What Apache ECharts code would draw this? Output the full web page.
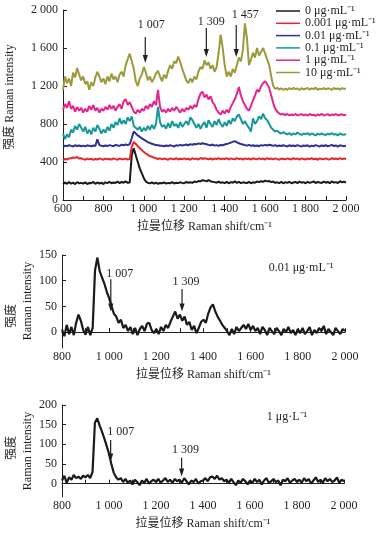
<!DOCTYPE html>
<html><head><meta charset="utf-8">
<script src="https://cdn.jsdelivr.net/npm/echarts@6/dist/echarts.min.js"></script>
<style>html,body{margin:0;padding:0;background:#fff}#c{width:388px;height:536px}</style>
</head><body><div id="c"></div>
<script>
// sampling grids (cm^-1)
const shiftTop = []; for (let v = 600; v <= 2000; v += 10) shiftTop.push(v);
const shiftSingle = []; for (let v = 800; v <= 2000; v += 10) shiftSingle.push(v);

const legendNames = ['0 μg·mL⁻¹','0.001 μg·mL⁻¹','0.01 μg·mL⁻¹','0.1 μg·mL⁻¹','1 μg·mL⁻¹','10 μg·mL⁻¹'];
const lineColors = ['#1a1a1a','#e8262a','#2e3192','#17999b','#e6248e','#9c9a3c'];

const conc0 = [165,185,170,190,172,182,168,188,175,180,
172,186,168,180,176,190,170,184,174,182,
168,186,178,192,176,184,180,194,178,190,
182,196,180,185,470,545,470,400,330,280,
230,195,180,175,186,172,184,170,180,176,
185,172,180,176,188,174,182,178,186,180,
176,190,182,186,180,194,188,200,196,208,
204,196,210,198,192,188,182,194,180,186,
178,190,176,188,182,196,180,192,178,186,
182,178,190,176,186,182,194,188,198,192,
204,196,200,188,194,180,186,178,190,176,
188,180,192,176,184,190,178,194,182,188,
176,192,180,186,196,178,190,184,180,194,
182,190,176,196,184,188,178,198,186,192,184];
const conc0001 = [420,432,426,438,440,448,444,452,436,440,
430,424,436,428,434,422,432,426,438,430,
424,436,428,432,426,438,430,424,436,430,
428,436,426,432,560,612,590,565,545,525,
505,490,475,462,455,446,440,432,438,428,
436,430,424,438,432,428,440,426,434,430,
438,428,434,424,440,430,436,426,442,432,
440,434,428,438,426,436,430,442,428,436,
430,440,426,438,432,428,442,430,436,426,
438,430,436,424,440,432,428,438,430,436,
426,440,432,436,428,438,430,424,436,432,
428,438,432,426,440,430,436,424,438,432,
426,436,430,440,428,434,424,438,432,428,
438,430,426,440,432,436,428,442,430,436,432];
const conc001 = [560,572,566,578,570,564,576,568,574,566,
572,564,576,570,566,574,568,640,578,570,
566,574,568,578,572,566,580,574,570,582,
576,584,578,588,650,722,700,680,665,648,
635,622,610,600,592,584,580,576,572,570,
566,574,568,578,570,564,576,572,580,574,
578,584,576,588,582,590,586,596,590,598,
592,586,580,576,584,572,578,570,580,576,
584,590,596,604,612,620,606,598,590,584,
578,572,580,570,576,568,574,566,578,572,
580,574,582,576,570,578,566,574,568,576,
570,564,576,568,574,566,578,570,564,574,
568,576,562,572,566,578,570,564,574,568,
576,566,572,580,568,574,562,576,570,566,572];
const conc01 = [700,640,690,660,740,710,780,740,800,760,
720,770,700,740,690,760,720,790,750,700,
740,710,770,730,800,760,820,790,860,800,
840,800,870,830,880,780,760,740,770,720,
760,730,780,740,790,750,800,980,820,770,
790,750,810,760,830,780,800,760,820,770,
800,830,790,870,840,800,760,800,750,790,
820,760,840,800,770,830,790,850,800,770,
820,780,840,800,860,830,880,900,850,800,
830,790,760,720,860,800,830,880,850,910,
860,840,800,760,740,720,730,710,700,715,
700,690,705,685,700,690,710,695,685,700,
690,705,685,700,692,680,700,688,702,690,
684,698,690,706,688,694,680,700,690,686,696];
const conc1 = [950,1010,970,1040,960,990,930,980,940,970,
920,960,930,990,950,1000,940,970,920,960,
940,980,950,1000,960,990,940,980,1010,960,
1040,1060,1000,1030,980,930,910,950,920,960,
940,990,960,1010,980,1040,1000,1160,980,930,
950,920,960,930,970,940,980,950,920,960,
930,970,950,990,960,1000,980,1060,1120,1140,
1080,1110,1060,1090,1030,1000,950,920,900,940,
910,950,920,980,1020,1060,1120,1190,1100,1040,
1000,960,940,990,1050,1100,1160,1140,1200,1230,
1250,1220,1180,1100,1020,960,930,910,900,905,
895,905,890,900,892,908,888,898,904,890,
900,888,906,894,898,886,902,892,908,890,
896,904,888,900,894,906,890,898,902,892,898];
const conc10 = [1160,1300,1230,1280,1200,1340,1290,1390,1320,1260,
1300,1220,1250,1160,1240,1200,1290,1350,1300,1240,
1280,1220,1300,1250,1330,1270,1300,1240,1320,1350,
1300,1420,1480,1540,1460,1380,1250,1200,1280,1320,
1400,1340,1260,1300,1240,1280,1330,1360,1300,1250,
1320,1280,1360,1420,1380,1460,1440,1510,1450,1380,
1320,1260,1230,1280,1240,1300,1270,1350,1400,1380,
1470,1420,1450,1380,1420,1350,1400,1550,1740,1600,
1420,1300,1350,1300,1380,1340,1420,1500,1460,1580,
1860,1700,1420,1480,1550,1500,1600,1520,1560,1600,
1540,1480,1420,1300,1200,1170,1180,1165,1175,1160,
1172,1160,1178,1165,1180,1168,1174,1158,1176,1166,
1170,1180,1162,1174,1168,1182,1160,1172,1166,1178,
1164,1176,1170,1160,1180,1168,1174,1162,1178,1170,1172];
const single001 = [5,-8,14,-4,10,-6,18,34,22,4,
-5,10,-6,8,120,145,118,106,94,78,
66,50,36,30,18,24,8,14,2,10,
-4,8,-6,6,12,2,16,18,4,-2,
6,-4,10,2,14,8,20,30,40,26,
34,22,30,14,20,4,12,-2,8,20,
24,18,36,48,54,40,30,22,14,8,
2,-6,6,-4,10,2,8,14,6,16,
4,12,2,8,-4,10,4,-6,8,2,
-4,8,2,-6,6,0,10,-2,4,-6,
6,-2,8,-4,2,10,-6,4,-2,8,
2,12,-4,6,0,-6,8,2,-4,6,2];
const single1 = [8,20,2,16,10,22,14,18,12,20,
16,22,14,30,155,166,148,132,115,96,
76,50,28,16,10,14,4,12,2,8,
-2,10,4,-4,8,2,12,0,6,10,
4,12,2,8,14,4,10,2,12,6,
10,2,14,6,-2,8,4,12,0,6,
8,14,6,16,18,12,20,10,14,6,
10,2,12,4,-4,8,2,12,6,-2,
8,2,12,4,10,-2,8,14,2,6,
12,4,8,-4,10,6,14,2,8,12,
4,10,2,14,6,12,0,8,16,4,
10,2,14,6,12,4,8,16,2,10,6];

const topYTicks = [0,400,800,1200,1600,2000];
const single001YTicks = [0,50,100,150];
const single1YTicks = [0,50,100,150,200];

const peakNotes = [
  {g:0, x:1007, y1:1716, y2:1442, text:'1 007', ly:1842, dx:6},
  {g:0, x:1309, y1:1810, y2:1505, text:'1 309', ly:1873, dx:5},
  {g:0, x:1457, y1:1842, y2:1505, text:'1 457', ly:1947, dx:9},
  {g:1, x:1007, y1:103, y2:40, text:'1 007', ly:114, dx:9},
  {g:1, x:1309, y1:84, y2:40, text:'1 309', ly:98, dx:4},
  {g:2, x:1007, y1:111, y2:56, text:'1 007', ly:132, dx:10},
  {g:2, x:1309, y1:66, y2:18, text:'1 309', ly:86, dx:4}
];

const FONT = "'Liberation Serif','Noto Sans CJK SC',serif";
const TXT = '#231f20';
function fmt(v){ return String(v).replace(/\B(?=(\d{3})+(?!\d))/g,' '); }
function pair(xs, ys){ return xs.map((x,i)=>[x, ys[i]]); }

const chart = echarts.init(document.getElementById('c'), null, {renderer:'canvas'});

const axisLineStyle = {lineStyle:{color:'#231f20', width:1}};
function xAxisCfg(grid, min){
  return {type:'value', gridIndex:grid, min:min, max:2000, interval:100,
    axisLine:axisLineStyle, splitLine:{show:false},
    axisTick:{inside:true, length:4, lineStyle:{color:'#231f20'}},
    axisLabel:{margin:3, color:TXT, fontFamily:FONT, fontSize:12,
      formatter:v => (v % 200 === 0 ? fmt(v) : '')},
    name:'拉曼位移 Raman shift/cm⁻¹', nameLocation:'middle', nameGap:21,
    nameTextStyle:{color:TXT, fontFamily:FONT, fontSize:12}};
}
function yAxisCfg(grid, min, max, ticks){
  return {type:'value', gridIndex:grid, min:min, max:max,
    axisLine:axisLineStyle, splitLine:{show:false},
    axisTick:{inside:true, length:4, customValues:ticks, lineStyle:{color:'#231f20'}},
    axisLabel:{margin:5, color:TXT, fontFamily:FONT, fontSize:12, customValues:ticks,
      formatter:v => fmt(v)}};
}

const topData = [conc0, conc0001, conc001, conc01, conc1, conc10];
const series = topData.map((d,i)=>({
  type:'line', name:legendNames[i], xAxisIndex:0, yAxisIndex:0,
  data:pair(shiftTop, d), showSymbol:false, symbol:'none',
  lineStyle:{color:lineColors[i], width:2}, itemStyle:{color:lineColors[i]}, z:2+i
}));
series.push({type:'line', xAxisIndex:1, yAxisIndex:1, data:pair(shiftSingle, single001),
  showSymbol:false, symbol:'none', lineStyle:{color:'#1a1a1a', width:2.2}});
series.push({type:'line', xAxisIndex:2, yAxisIndex:2, data:pair(shiftSingle, single1),
  showSymbol:false, symbol:'none', lineStyle:{color:'#1a1a1a', width:2.2}});

chart.setOption({
  animation:false,
  backgroundColor:'#fff',
  textStyle:{fontFamily:FONT},
  grid:[
    {left:63, top:10, width:283, height:190},
    {left:62, top:255, width:283, height:93},
    {left:62, top:405, width:282, height:92}
  ],
  xAxis:[xAxisCfg(0,600), xAxisCfg(1,800), xAxisCfg(2,800)],
  yAxis:[
    yAxisCfg(0,0,2000,topYTicks),
    yAxisCfg(1,-31,150,single001YTicks),
    yAxisCfg(2,-34,200,single1YTicks)
  ],
  legend:{orient:'vertical', left:276, top:5, padding:0, itemWidth:24, itemHeight:1.5, itemGap:0.3,
    icon:'rect', data:legendNames,
    textStyle:{color:TXT, fontFamily:FONT, fontSize:12, lineHeight:10}},
  series:series
});

// annotations
const g = [];
peakNotes.forEach(n=>{
  const p1 = chart.convertToPixel({gridIndex:n.g}, [n.x, n.y1]);
  const p2 = chart.convertToPixel({gridIndex:n.g}, [n.x, n.y2]);
  const pl = chart.convertToPixel({gridIndex:n.g}, [n.x, n.ly]);
  g.push({type:'line', shape:{x1:p1[0], y1:p1[1], x2:p2[0], y2:p2[1]-6},
    style:{stroke:'#231f20', lineWidth:1.2}, silent:true});
  g.push({type:'polygon', shape:{points:[[p2[0]-2.6,p2[1]-8],[p2[0]+2.6,p2[1]-8],[p2[0],p2[1]]]},
    style:{fill:'#231f20'}, silent:true});
  g.push({type:'text', x:pl[0]+n.dx, y:pl[1], silent:true,
    style:{text:n.text, fill:TXT, font:'12px '+FONT, textAlign:'center', textVerticalAlign:'middle'}});
});
function vtext(x,y,t){
  return {type:'text', x:x, y:y, rotation:Math.PI/2, silent:true,
    style:{text:t, fill:TXT, font:'12px '+FONT, textAlign:'center', textVerticalAlign:'middle'}};
}
g.push(vtext(10, 97, '强度 Raman intensity'));
g.push(vtext(12, 316, '强度'));
g.push(vtext(28, 301, 'Raman intensity'));
g.push(vtext(12, 448, '强度'));
g.push(vtext(28, 451, 'Raman intensity'));
g.push({type:'text', x:301, y:268, silent:true,
  style:{text:'0.01 μg·mL⁻¹', fill:TXT, font:'12px '+FONT, textAlign:'center', textVerticalAlign:'middle'}});
g.push({type:'text', x:287, y:417, silent:true,
  style:{text:'1 μg·L⁻¹', fill:TXT, font:'12px '+FONT, textAlign:'center', textVerticalAlign:'middle'}});
chart.setOption({graphic:g});
</script></body></html>
